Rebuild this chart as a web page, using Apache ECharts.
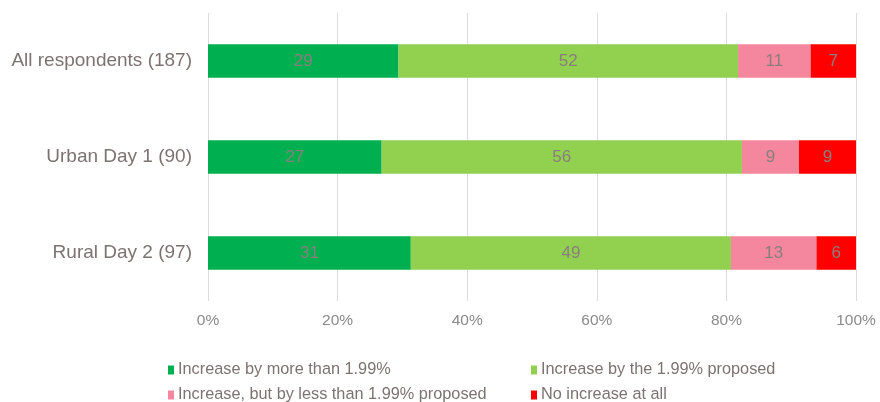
<!DOCTYPE html>
<html>
<head>
<meta charset="utf-8">
<script src="https://cdn.jsdelivr.net/npm/echarts@6/dist/echarts.min.js"></script>
<style>html,body{margin:0;padding:0;background:#fff}#c{width:880px;height:402px}</style>
</head>
<body>
<div id="c"></div>
<script>
const categories = ['All respondents (187)', 'Urban Day 1 (90)', 'Rural Day 2 (97)'];
const seriesNames = ['Increase by more than 1.99%', 'Increase by the 1.99% proposed', 'Increase, but by less than 1.99% proposed', 'No increase at all'];
const moreThan = [29.4, 26.8, 31.3];
const proposed = [52.4, 55.6, 49.4];
const lessThan = [11.2, 8.8, 13.2];
const noIncrease = [7.0, 8.8, 6.1];
const xTicks = [0, 20, 40, 60, 80, 100];
const colors = ['#00B050', '#92D050', '#F4879D', '#FF0000'];

const values = [moreThan, proposed, lessThan, noIncrease];
const chart = echarts.init(document.getElementById('c'));
const legendPos = [[163, 357], [526, 357], [163, 382], [526, 382]];
chart.setOption({
  animation: false,
  grid: {left: 208, right: 24, top: 13, height: 288},
  xAxis: {
    type: 'value', min: xTicks[0], max: xTicks[xTicks.length - 1], interval: 20,
    axisLine: {show: false}, axisTick: {show: false},
    splitLine: {lineStyle: {color: '#dcdcdc', width: 1}},
    axisLabel: {formatter: v => v + '%', color: '#8a8a8a', fontSize: 15.5, margin: 12, fontFamily: 'Liberation Sans'}
  },
  yAxis: {
    type: 'category', data: categories, inverse: true,
    axisLine: {show: false}, axisTick: {show: false},
    axisLabel: {color: '#7d7272', fontSize: 19, margin: 16, fontFamily: 'Liberation Sans'}
  },
  legend: seriesNames.map((n, i) => ({
    data: [n], left: legendPos[i][0], top: legendPos[i][1], itemWidth: 6, itemHeight: 9, itemGap: 4,
    icon: 'rect', textStyle: {color: '#7d7272', fontSize: 16.3, fontFamily: 'Liberation Sans', padding: [0, 0, 0, -1]}
  })),
  series: seriesNames.map((n, i) => ({
    name: n, type: 'bar', stack: 'total', data: values[i], barWidth: '35%',
    itemStyle: {color: colors[i]},
    label: {show: true, position: 'inside', formatter: p => Math.round(p.value), color: '#8a7e7e', fontSize: 17, fontFamily: 'Liberation Sans'}
  }))
});
</script>
</body>
</html>
